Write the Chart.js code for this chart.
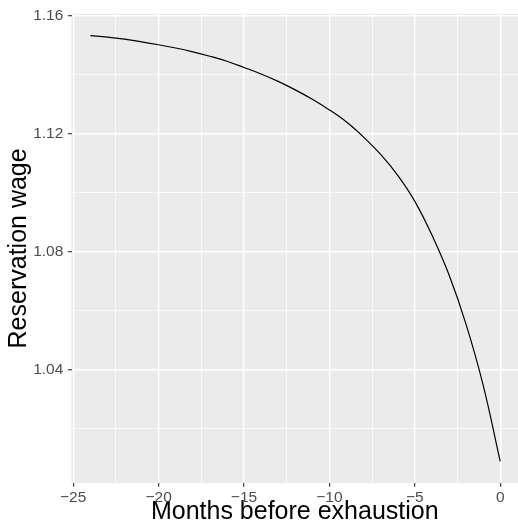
<!DOCTYPE html>
<html>
<head>
<meta charset="utf-8">
<script src="https://cdn.jsdelivr.net/npm/chart.js@4/dist/chart.umd.min.js"></script>
<style>
html,body{margin:0;padding:0;background:#fff;}
#wrap{width:518px;height:526px;position:relative;}
</style>
</head>
<body>
<div id="wrap"><canvas id="c" width="518" height="526"></canvas></div>
<script>
// Data (one reading per month)
const months = [-24, -23, -22, -21, -20, -19, -18, -17, -16, -15, -14, -13, -12, -11, -10, -9, -8, -7, -6, -5, -4, -3, -2, -1, 0];
const wage   = [1.1533, 1.1528, 1.1521, 1.1512, 1.1502, 1.1491, 1.1478, 1.1463, 1.1446, 1.1425,
                1.1403, 1.1378, 1.1349, 1.1317, 1.1281, 1.1240, 1.1189, 1.1130, 1.1059, 1.0971,
                1.0857, 1.0722, 1.0554, 1.0348, 1.0089];
const xMajorTicks = [-25, -20, -15, -10, -5, 0];
const xMinorTicks = [-22.5, -17.5, -12.5, -7.5, -2.5];
const yMajorTicks = [1.04, 1.08, 1.12, 1.16];
const yMinorTicks = [1.02, 1.06, 1.10, 1.14];

const isMajor = (list, v) => list.some(t => Math.abs(t - v) < 1e-6);
const fmtX = v => (v < 0 ? '\u2212' + Math.abs(v) : String(v));
const fmtY = v => v.toFixed(2);

const panelBg = {
  id: 'panelBg',
  beforeDraw(chart) {
    const {ctx, chartArea: a} = chart;
    ctx.save();
    ctx.fillStyle = '#EBEBEB';
    ctx.fillRect(a.left, a.top, a.right - a.left, a.bottom - a.top);
    ctx.restore();
  }
};

new Chart(document.getElementById('c'), {
  type: 'line',
  data: {
    datasets: [{
      data: months.map((m, i) => ({x: m, y: wage[i]})),
      borderColor: '#000000',
      borderWidth: 1.2,
      pointRadius: 0,
      fill: false,
      tension: 0.4
    }]
  },
  options: {
    responsive: false,
    animation: false,
    events: [],
    layout: {padding: {top: 13, right: 0, left: 0, bottom: 0}},
    plugins: {legend: {display: false}, tooltip: {enabled: false}},
    scales: {
      x: {
        type: 'linear',
        min: -25.1,
        max: 1.04,
        afterBuildTicks: s => { s.ticks = [...xMajorTicks, ...xMinorTicks].sort((a,b)=>a-b).map(v => ({value: v})); },
        afterFit: s => { s.height = 43; },
        border: {display: false},
        grid: {
          color: '#FFFFFF',
          lineWidth: c => isMajor(xMajorTicks, c.tick.value) ? 1.4 : 0.7,
          tickColor: c => isMajor(xMajorTicks, c.tick.value) ? '#333333' : 'rgba(0,0,0,0)',
          tickLength: 3.7,
          tickWidth: 1.1
        },
        ticks: {
          autoSkip: false,
          maxRotation: 0,
          padding: 2,
          color: '#4D4D4D',
          font: {family: 'Liberation Sans', size: 15.5},
          callback: v => isMajor(xMajorTicks, v) ? fmtX(v) : ''
        },
        title: {
          display: true,
          text: 'Months before exhaustion',
          color: '#000000',
          font: {family: 'Liberation Sans', size: 25, lineHeight: 1},
          padding: {top: 0, bottom: 1}
        }
      },
      y: {
        type: 'linear',
        min: 1.0016,
        max: 1.1607,
        afterBuildTicks: s => { s.ticks = [...yMajorTicks, ...yMinorTicks].sort((a,b)=>a-b).map(v => ({value: v})); },
        afterFit: s => { s.width = 71.5; },
        border: {display: false},
        grid: {
          color: '#FFFFFF',
          lineWidth: c => isMajor(yMajorTicks, c.tick.value) ? 1.4 : 0.7,
          tickColor: c => isMajor(yMajorTicks, c.tick.value) ? '#333333' : 'rgba(0,0,0,0)',
          tickLength: 3.7,
          tickWidth: 1.1
        },
        ticks: {
          autoSkip: false,
          padding: 4.5,
          color: '#4D4D4D',
          font: {family: 'Liberation Sans', size: 15.5},
          callback: v => isMajor(yMajorTicks, v) ? fmtY(v) : ''
        },
        title: {
          display: true,
          text: 'Reservation wage',
          color: '#000000',
          font: {family: 'Liberation Sans', size: 25, lineHeight: 1},
          padding: {top: 7, bottom: 0}
        }
      }
    }
  },
  plugins: [panelBg]
});
</script>
</body>
</html>
